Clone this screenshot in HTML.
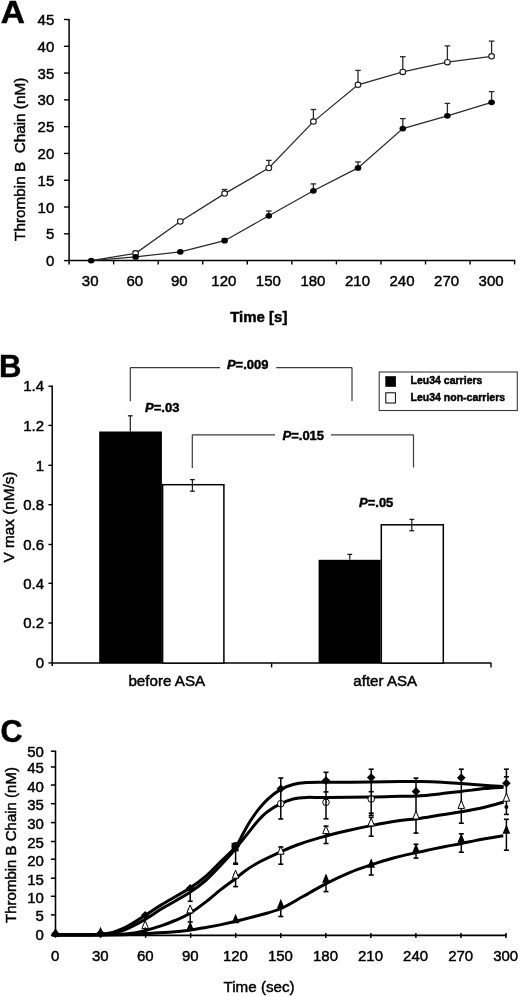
<!DOCTYPE html>
<html><head><meta charset="utf-8"><style>
html,body{margin:0;padding:0;background:#fff;}
svg{display:block;font-family:"Liberation Sans", sans-serif;will-change:transform;}
text{stroke:#000;stroke-width:0.45px;}
</style></head><body>
<svg width="520" height="996" viewBox="0 0 520 996" font-family='"Liberation Sans", sans-serif' fill="#000">
<rect x="0" y="0" width="520" height="996" fill="#fff"/>
<text transform="translate(0.8,23.4) scale(1.08,1)" font-size="31" font-weight="bold">A</text>
<line x1="69.10" y1="18.90" x2="69.10" y2="264.40" stroke="#000" stroke-width="1.5"/>
<line x1="68.40" y1="260.60" x2="515.30" y2="260.60" stroke="#000" stroke-width="1.5"/>
<line x1="63.90" y1="260.60" x2="69.10" y2="260.60" stroke="#000" stroke-width="1.4"/>
<text x="54.30" y="266.20" font-size="15" text-anchor="end" font-weight="normal" font-style="normal" >0</text>
<line x1="63.90" y1="233.81" x2="69.10" y2="233.81" stroke="#000" stroke-width="1.4"/>
<text x="54.30" y="239.41" font-size="15" text-anchor="end" font-weight="normal" font-style="normal" >5</text>
<line x1="63.90" y1="207.02" x2="69.10" y2="207.02" stroke="#000" stroke-width="1.4"/>
<text x="54.30" y="212.62" font-size="15" text-anchor="end" font-weight="normal" font-style="normal" >10</text>
<line x1="63.90" y1="180.23" x2="69.10" y2="180.23" stroke="#000" stroke-width="1.4"/>
<text x="54.30" y="185.83" font-size="15" text-anchor="end" font-weight="normal" font-style="normal" >15</text>
<line x1="63.90" y1="153.44" x2="69.10" y2="153.44" stroke="#000" stroke-width="1.4"/>
<text x="54.30" y="159.04" font-size="15" text-anchor="end" font-weight="normal" font-style="normal" >20</text>
<line x1="63.90" y1="126.66" x2="69.10" y2="126.66" stroke="#000" stroke-width="1.4"/>
<text x="54.30" y="132.26" font-size="15" text-anchor="end" font-weight="normal" font-style="normal" >25</text>
<line x1="63.90" y1="99.87" x2="69.10" y2="99.87" stroke="#000" stroke-width="1.4"/>
<text x="54.30" y="105.47" font-size="15" text-anchor="end" font-weight="normal" font-style="normal" >30</text>
<line x1="63.90" y1="73.08" x2="69.10" y2="73.08" stroke="#000" stroke-width="1.4"/>
<text x="54.30" y="78.68" font-size="15" text-anchor="end" font-weight="normal" font-style="normal" >35</text>
<line x1="63.90" y1="46.29" x2="69.10" y2="46.29" stroke="#000" stroke-width="1.4"/>
<text x="54.30" y="51.89" font-size="15" text-anchor="end" font-weight="normal" font-style="normal" >40</text>
<line x1="63.90" y1="19.50" x2="69.10" y2="19.50" stroke="#000" stroke-width="1.4"/>
<text x="54.30" y="25.10" font-size="15" text-anchor="end" font-weight="normal" font-style="normal" >45</text>
<line x1="113.65" y1="260.60" x2="113.65" y2="264.40" stroke="#000" stroke-width="1.4"/>
<line x1="158.20" y1="260.60" x2="158.20" y2="264.40" stroke="#000" stroke-width="1.4"/>
<line x1="202.75" y1="260.60" x2="202.75" y2="264.40" stroke="#000" stroke-width="1.4"/>
<line x1="247.30" y1="260.60" x2="247.30" y2="264.40" stroke="#000" stroke-width="1.4"/>
<line x1="291.85" y1="260.60" x2="291.85" y2="264.40" stroke="#000" stroke-width="1.4"/>
<line x1="336.40" y1="260.60" x2="336.40" y2="264.40" stroke="#000" stroke-width="1.4"/>
<line x1="380.95" y1="260.60" x2="380.95" y2="264.40" stroke="#000" stroke-width="1.4"/>
<line x1="425.50" y1="260.60" x2="425.50" y2="264.40" stroke="#000" stroke-width="1.4"/>
<line x1="470.05" y1="260.60" x2="470.05" y2="264.40" stroke="#000" stroke-width="1.4"/>
<line x1="514.60" y1="260.60" x2="514.60" y2="264.40" stroke="#000" stroke-width="1.4"/>
<text x="90.17" y="285.80" font-size="15" text-anchor="middle" font-weight="normal" font-style="normal" >30</text>
<text x="134.72" y="285.80" font-size="15" text-anchor="middle" font-weight="normal" font-style="normal" >60</text>
<text x="179.28" y="285.80" font-size="15" text-anchor="middle" font-weight="normal" font-style="normal" >90</text>
<text x="223.82" y="285.80" font-size="15" text-anchor="middle" font-weight="normal" font-style="normal" >120</text>
<text x="268.38" y="285.80" font-size="15" text-anchor="middle" font-weight="normal" font-style="normal" >150</text>
<text x="312.93" y="285.80" font-size="15" text-anchor="middle" font-weight="normal" font-style="normal" >180</text>
<text x="357.47" y="285.80" font-size="15" text-anchor="middle" font-weight="normal" font-style="normal" >210</text>
<text x="402.03" y="285.80" font-size="15" text-anchor="middle" font-weight="normal" font-style="normal" >240</text>
<text x="446.57" y="285.80" font-size="15" text-anchor="middle" font-weight="normal" font-style="normal" >270</text>
<text x="491.12" y="285.80" font-size="15" text-anchor="middle" font-weight="normal" font-style="normal" >300</text>
<text x="258.80" y="322.30" font-size="15" text-anchor="middle" font-weight="bold" font-style="normal" >Time [s]</text>
<text transform="translate(24.9,159.3) rotate(-90)" font-size="15.3" text-anchor="middle" xml:space="preserve">Thrombin B  Chain (nM)</text>
<polyline points="91.20,260.60 135.60,253.30 180.30,221.50 224.60,193.60 268.80,168.00 313.40,121.60 358.00,84.80 402.80,71.90 447.40,62.20 491.60,56.30" fill="none" stroke="#2a2a2a" stroke-width="1.25"/>
<line x1="135.60" y1="253.30" x2="135.60" y2="251.30" stroke="#2a2a2a" stroke-width="1.3"/>
<line x1="132.80" y1="251.30" x2="138.40" y2="251.30" stroke="#2a2a2a" stroke-width="1.3"/>
<line x1="180.30" y1="221.50" x2="180.30" y2="219.50" stroke="#2a2a2a" stroke-width="1.3"/>
<line x1="177.50" y1="219.50" x2="183.10" y2="219.50" stroke="#2a2a2a" stroke-width="1.3"/>
<line x1="224.60" y1="193.60" x2="224.60" y2="189.50" stroke="#2a2a2a" stroke-width="1.3"/>
<line x1="221.80" y1="189.50" x2="227.40" y2="189.50" stroke="#2a2a2a" stroke-width="1.3"/>
<line x1="268.80" y1="168.00" x2="268.80" y2="160.40" stroke="#2a2a2a" stroke-width="1.3"/>
<line x1="266.00" y1="160.40" x2="271.60" y2="160.40" stroke="#2a2a2a" stroke-width="1.3"/>
<line x1="313.40" y1="121.60" x2="313.40" y2="109.50" stroke="#2a2a2a" stroke-width="1.3"/>
<line x1="310.60" y1="109.50" x2="316.20" y2="109.50" stroke="#2a2a2a" stroke-width="1.3"/>
<line x1="358.00" y1="84.80" x2="358.00" y2="70.40" stroke="#2a2a2a" stroke-width="1.3"/>
<line x1="355.20" y1="70.40" x2="360.80" y2="70.40" stroke="#2a2a2a" stroke-width="1.3"/>
<line x1="402.80" y1="71.90" x2="402.80" y2="56.70" stroke="#2a2a2a" stroke-width="1.3"/>
<line x1="400.00" y1="56.70" x2="405.60" y2="56.70" stroke="#2a2a2a" stroke-width="1.3"/>
<line x1="447.40" y1="62.20" x2="447.40" y2="45.90" stroke="#2a2a2a" stroke-width="1.3"/>
<line x1="444.60" y1="45.90" x2="450.20" y2="45.90" stroke="#2a2a2a" stroke-width="1.3"/>
<line x1="491.60" y1="56.30" x2="491.60" y2="41.10" stroke="#2a2a2a" stroke-width="1.3"/>
<line x1="488.80" y1="41.10" x2="494.40" y2="41.10" stroke="#2a2a2a" stroke-width="1.3"/>
<polyline points="91.20,260.60 135.60,256.90 180.30,251.80 224.60,240.70 268.80,215.80 313.40,190.80 358.00,167.90 402.80,128.60 447.40,115.80 491.60,102.30" fill="none" stroke="#2a2a2a" stroke-width="1.25"/>
<line x1="224.60" y1="240.70" x2="224.60" y2="238.50" stroke="#2a2a2a" stroke-width="1.3"/>
<line x1="221.80" y1="238.50" x2="227.40" y2="238.50" stroke="#2a2a2a" stroke-width="1.3"/>
<line x1="268.80" y1="215.80" x2="268.80" y2="211.00" stroke="#2a2a2a" stroke-width="1.3"/>
<line x1="266.00" y1="211.00" x2="271.60" y2="211.00" stroke="#2a2a2a" stroke-width="1.3"/>
<line x1="313.40" y1="190.80" x2="313.40" y2="183.90" stroke="#2a2a2a" stroke-width="1.3"/>
<line x1="310.60" y1="183.90" x2="316.20" y2="183.90" stroke="#2a2a2a" stroke-width="1.3"/>
<line x1="358.00" y1="167.90" x2="358.00" y2="161.90" stroke="#2a2a2a" stroke-width="1.3"/>
<line x1="355.20" y1="161.90" x2="360.80" y2="161.90" stroke="#2a2a2a" stroke-width="1.3"/>
<line x1="402.80" y1="128.60" x2="402.80" y2="118.60" stroke="#2a2a2a" stroke-width="1.3"/>
<line x1="400.00" y1="118.60" x2="405.60" y2="118.60" stroke="#2a2a2a" stroke-width="1.3"/>
<line x1="447.40" y1="115.80" x2="447.40" y2="103.40" stroke="#2a2a2a" stroke-width="1.3"/>
<line x1="444.60" y1="103.40" x2="450.20" y2="103.40" stroke="#2a2a2a" stroke-width="1.3"/>
<line x1="491.60" y1="102.30" x2="491.60" y2="91.60" stroke="#2a2a2a" stroke-width="1.3"/>
<line x1="488.80" y1="91.60" x2="494.40" y2="91.60" stroke="#2a2a2a" stroke-width="1.3"/>
<ellipse cx="135.60" cy="253.30" rx="2.85" ry="2.7" fill="#fff" stroke="#1a1a1a" stroke-width="1.1"/>
<ellipse cx="180.30" cy="221.50" rx="2.85" ry="2.7" fill="#fff" stroke="#1a1a1a" stroke-width="1.1"/>
<ellipse cx="224.60" cy="193.60" rx="2.85" ry="2.7" fill="#fff" stroke="#1a1a1a" stroke-width="1.1"/>
<ellipse cx="268.80" cy="168.00" rx="2.85" ry="2.7" fill="#fff" stroke="#1a1a1a" stroke-width="1.1"/>
<ellipse cx="313.40" cy="121.60" rx="2.85" ry="2.7" fill="#fff" stroke="#1a1a1a" stroke-width="1.1"/>
<ellipse cx="358.00" cy="84.80" rx="2.85" ry="2.7" fill="#fff" stroke="#1a1a1a" stroke-width="1.1"/>
<ellipse cx="402.80" cy="71.90" rx="2.85" ry="2.7" fill="#fff" stroke="#1a1a1a" stroke-width="1.1"/>
<ellipse cx="447.40" cy="62.20" rx="2.85" ry="2.7" fill="#fff" stroke="#1a1a1a" stroke-width="1.1"/>
<ellipse cx="491.60" cy="56.30" rx="2.85" ry="2.7" fill="#fff" stroke="#1a1a1a" stroke-width="1.1"/>
<ellipse cx="91.20" cy="260.60" rx="3.3" ry="2.9" fill="#000"/>
<ellipse cx="135.60" cy="256.90" rx="3.3" ry="2.9" fill="#000"/>
<ellipse cx="180.30" cy="251.80" rx="3.3" ry="2.9" fill="#000"/>
<ellipse cx="224.60" cy="240.70" rx="3.3" ry="2.9" fill="#000"/>
<ellipse cx="268.80" cy="215.80" rx="3.3" ry="2.9" fill="#000"/>
<ellipse cx="313.40" cy="190.80" rx="3.3" ry="2.9" fill="#000"/>
<ellipse cx="358.00" cy="167.90" rx="3.3" ry="2.9" fill="#000"/>
<ellipse cx="402.80" cy="128.60" rx="3.3" ry="2.9" fill="#000"/>
<ellipse cx="447.40" cy="115.80" rx="3.3" ry="2.9" fill="#000"/>
<ellipse cx="491.60" cy="102.30" rx="3.3" ry="2.9" fill="#000"/>
<text x="-0.90" y="377.10" font-size="31" text-anchor="start" font-weight="bold" font-style="normal" >B</text>
<line x1="52.20" y1="385.60" x2="52.20" y2="666.10" stroke="#000" stroke-width="1.5"/>
<line x1="51.50" y1="663.10" x2="491.30" y2="663.10" stroke="#000" stroke-width="1.5"/>
<line x1="48.40" y1="662.90" x2="52.20" y2="662.90" stroke="#000" stroke-width="1.4"/>
<text x="44.00" y="668.10" font-size="15" text-anchor="end" font-weight="normal" font-style="normal" >0</text>
<line x1="48.40" y1="623.00" x2="52.20" y2="623.00" stroke="#000" stroke-width="1.4"/>
<text x="44.00" y="628.20" font-size="15" text-anchor="end" font-weight="normal" font-style="normal" >0.2</text>
<line x1="48.40" y1="583.30" x2="52.20" y2="583.30" stroke="#000" stroke-width="1.4"/>
<text x="44.00" y="588.50" font-size="15" text-anchor="end" font-weight="normal" font-style="normal" >0.4</text>
<line x1="48.40" y1="544.50" x2="52.20" y2="544.50" stroke="#000" stroke-width="1.4"/>
<text x="44.00" y="549.70" font-size="15" text-anchor="end" font-weight="normal" font-style="normal" >0.6</text>
<line x1="48.40" y1="504.70" x2="52.20" y2="504.70" stroke="#000" stroke-width="1.4"/>
<text x="44.00" y="509.90" font-size="15" text-anchor="end" font-weight="normal" font-style="normal" >0.8</text>
<line x1="48.40" y1="465.30" x2="52.20" y2="465.30" stroke="#000" stroke-width="1.4"/>
<text x="44.00" y="470.50" font-size="15" text-anchor="end" font-weight="normal" font-style="normal" >1</text>
<line x1="48.40" y1="425.40" x2="52.20" y2="425.40" stroke="#000" stroke-width="1.4"/>
<text x="44.00" y="430.60" font-size="15" text-anchor="end" font-weight="normal" font-style="normal" >1.2</text>
<line x1="48.40" y1="386.20" x2="52.20" y2="386.20" stroke="#000" stroke-width="1.4"/>
<text x="44.00" y="391.40" font-size="15" text-anchor="end" font-weight="normal" font-style="normal" >1.4</text>
<line x1="271.60" y1="663.10" x2="271.60" y2="667.40" stroke="#000" stroke-width="1.4"/>
<line x1="491.00" y1="663.10" x2="491.00" y2="667.40" stroke="#000" stroke-width="1.4"/>
<rect x="99.20" y="431.50" width="62.70" height="231.60" fill="#000" stroke="none" stroke-width="0"/>
<rect x="162.60" y="484.70" width="61.30" height="178.40" fill="#fff" stroke="#000" stroke-width="1.5"/>
<rect x="318.60" y="559.80" width="62.00" height="103.30" fill="#000" stroke="none" stroke-width="0"/>
<rect x="381.30" y="524.80" width="62.00" height="138.30" fill="#fff" stroke="#000" stroke-width="1.5"/>
<line x1="130.30" y1="415.80" x2="130.30" y2="431.50" stroke="#1a1a1a" stroke-width="1.2"/>
<line x1="127.90" y1="415.80" x2="132.70" y2="415.80" stroke="#1a1a1a" stroke-width="1.3"/>
<line x1="192.40" y1="479.60" x2="192.40" y2="491.20" stroke="#1a1a1a" stroke-width="1.2"/>
<line x1="190.00" y1="479.60" x2="194.80" y2="479.60" stroke="#1a1a1a" stroke-width="1.3"/>
<line x1="190.00" y1="491.20" x2="194.80" y2="491.20" stroke="#1a1a1a" stroke-width="1.3"/>
<line x1="349.80" y1="554.40" x2="349.80" y2="559.80" stroke="#1a1a1a" stroke-width="1.2"/>
<line x1="347.40" y1="554.40" x2="352.20" y2="554.40" stroke="#1a1a1a" stroke-width="1.3"/>
<line x1="411.80" y1="519.40" x2="411.80" y2="530.70" stroke="#1a1a1a" stroke-width="1.2"/>
<line x1="409.40" y1="519.40" x2="414.20" y2="519.40" stroke="#1a1a1a" stroke-width="1.3"/>
<line x1="409.40" y1="530.70" x2="414.20" y2="530.70" stroke="#1a1a1a" stroke-width="1.3"/>
<line x1="130.30" y1="401.20" x2="130.30" y2="367.60" stroke="#3a3a3a" stroke-width="1.2"/>
<line x1="130.30" y1="367.60" x2="220.00" y2="367.60" stroke="#3a3a3a" stroke-width="1.2"/>
<line x1="276.20" y1="367.60" x2="352.00" y2="367.60" stroke="#3a3a3a" stroke-width="1.2"/>
<line x1="352.00" y1="367.60" x2="352.00" y2="401.00" stroke="#3a3a3a" stroke-width="1.2"/>
<text x="226.90" y="369.20" font-size="13" text-anchor="start" font-weight="bold" font-style="normal" ><tspan font-style="italic">P</tspan>=.009</text>
<line x1="192.30" y1="468.00" x2="192.30" y2="434.80" stroke="#3a3a3a" stroke-width="1.2"/>
<line x1="192.30" y1="434.80" x2="275.00" y2="434.80" stroke="#3a3a3a" stroke-width="1.2"/>
<line x1="331.00" y1="434.80" x2="413.50" y2="434.80" stroke="#3a3a3a" stroke-width="1.2"/>
<line x1="413.50" y1="434.80" x2="413.50" y2="467.50" stroke="#3a3a3a" stroke-width="1.2"/>
<text x="282.50" y="439.60" font-size="13" text-anchor="start" font-weight="bold" font-style="normal" ><tspan font-style="italic">P</tspan>=.015</text>
<text x="145.10" y="411.90" font-size="13" text-anchor="start" font-weight="bold" font-style="normal" ><tspan font-style="italic">P</tspan>=.03</text>
<text x="359.00" y="506.50" font-size="13" text-anchor="start" font-weight="bold" font-style="normal" ><tspan font-style="italic">P</tspan>=.05</text>
<rect x="379.20" y="372.00" width="138.10" height="38.50" fill="#fff" stroke="#3a3a3a" stroke-width="1.1"/>
<rect x="385.30" y="376.20" width="10.60" height="10.60" fill="#000" stroke="none" stroke-width="0"/>
<rect x="385.80" y="392.80" width="9.60" height="10.20" fill="#fff" stroke="#000" stroke-width="1"/>
<text x="410.60" y="384.20" font-size="10.5" text-anchor="start" font-weight="bold" font-style="normal" >Leu34 carriers</text>
<text x="410.60" y="401.30" font-size="10.5" text-anchor="start" font-weight="bold" font-style="normal" >Leu34 non-carriers</text>
<text x="166.80" y="686.00" font-size="15.2" text-anchor="middle" font-weight="normal" font-style="normal" >before ASA</text>
<text x="385.20" y="686.00" font-size="15.1" text-anchor="middle" font-weight="normal" font-style="normal" >after ASA</text>
<text transform="translate(14.4,517) rotate(-90)" font-size="15.3" text-anchor="middle">V max (nM/s)</text>
<text x="0.60" y="741.50" font-size="30.5" text-anchor="start" font-weight="bold" font-style="normal" >C</text>
<line x1="55.50" y1="750.60" x2="55.50" y2="935.80" stroke="#000" stroke-width="1.6"/>
<line x1="54.70" y1="935.30" x2="506.80" y2="935.30" stroke="#000" stroke-width="1.8"/>
<line x1="50.90" y1="935.30" x2="55.50" y2="935.30" stroke="#000" stroke-width="1.5"/>
<text x="43.90" y="939.50" font-size="15" text-anchor="end" font-weight="normal" font-style="normal" >0</text>
<line x1="50.90" y1="914.90" x2="55.50" y2="914.90" stroke="#000" stroke-width="1.5"/>
<text x="43.90" y="921.10" font-size="15" text-anchor="end" font-weight="normal" font-style="normal" >5</text>
<line x1="50.90" y1="896.30" x2="55.50" y2="896.30" stroke="#000" stroke-width="1.5"/>
<text x="43.90" y="903.00" font-size="15" text-anchor="end" font-weight="normal" font-style="normal" >10</text>
<line x1="50.90" y1="878.20" x2="55.50" y2="878.20" stroke="#000" stroke-width="1.5"/>
<text x="43.90" y="884.50" font-size="15" text-anchor="end" font-weight="normal" font-style="normal" >15</text>
<line x1="50.90" y1="859.20" x2="55.50" y2="859.20" stroke="#000" stroke-width="1.5"/>
<text x="43.90" y="865.80" font-size="15" text-anchor="end" font-weight="normal" font-style="normal" >20</text>
<line x1="50.90" y1="841.50" x2="55.50" y2="841.50" stroke="#000" stroke-width="1.5"/>
<text x="43.90" y="847.90" font-size="15" text-anchor="end" font-weight="normal" font-style="normal" >25</text>
<line x1="50.90" y1="822.60" x2="55.50" y2="822.60" stroke="#000" stroke-width="1.5"/>
<text x="43.90" y="829.10" font-size="15" text-anchor="end" font-weight="normal" font-style="normal" >30</text>
<line x1="50.90" y1="803.70" x2="55.50" y2="803.70" stroke="#000" stroke-width="1.5"/>
<text x="43.90" y="810.10" font-size="15" text-anchor="end" font-weight="normal" font-style="normal" >35</text>
<line x1="50.90" y1="785.00" x2="55.50" y2="785.00" stroke="#000" stroke-width="1.5"/>
<text x="43.90" y="791.50" font-size="15" text-anchor="end" font-weight="normal" font-style="normal" >40</text>
<line x1="50.90" y1="767.00" x2="55.50" y2="767.00" stroke="#000" stroke-width="1.5"/>
<text x="43.90" y="773.30" font-size="15" text-anchor="end" font-weight="normal" font-style="normal" >45</text>
<line x1="50.90" y1="751.20" x2="55.50" y2="751.20" stroke="#000" stroke-width="1.5"/>
<text x="43.90" y="756.60" font-size="15" text-anchor="end" font-weight="normal" font-style="normal" >50</text>
<text x="55.20" y="961.30" font-size="15" text-anchor="middle" font-weight="normal" font-style="normal" >0</text>
<line x1="100.55" y1="932.90" x2="100.55" y2="937.90" stroke="#000" stroke-width="1.5"/>
<text x="100.25" y="961.30" font-size="15" text-anchor="middle" font-weight="normal" font-style="normal" >30</text>
<line x1="145.60" y1="932.90" x2="145.60" y2="937.90" stroke="#000" stroke-width="1.5"/>
<text x="145.30" y="961.30" font-size="15" text-anchor="middle" font-weight="normal" font-style="normal" >60</text>
<line x1="190.65" y1="932.90" x2="190.65" y2="937.90" stroke="#000" stroke-width="1.5"/>
<text x="190.35" y="961.30" font-size="15" text-anchor="middle" font-weight="normal" font-style="normal" >90</text>
<line x1="235.70" y1="932.90" x2="235.70" y2="937.90" stroke="#000" stroke-width="1.5"/>
<text x="235.40" y="961.30" font-size="15" text-anchor="middle" font-weight="normal" font-style="normal" >120</text>
<line x1="280.75" y1="932.90" x2="280.75" y2="937.90" stroke="#000" stroke-width="1.5"/>
<text x="280.45" y="961.30" font-size="15" text-anchor="middle" font-weight="normal" font-style="normal" >150</text>
<line x1="325.80" y1="932.90" x2="325.80" y2="937.90" stroke="#000" stroke-width="1.5"/>
<text x="325.50" y="961.30" font-size="15" text-anchor="middle" font-weight="normal" font-style="normal" >180</text>
<line x1="370.85" y1="932.90" x2="370.85" y2="937.90" stroke="#000" stroke-width="1.5"/>
<text x="370.55" y="961.30" font-size="15" text-anchor="middle" font-weight="normal" font-style="normal" >210</text>
<line x1="415.90" y1="932.90" x2="415.90" y2="937.90" stroke="#000" stroke-width="1.5"/>
<text x="415.60" y="961.30" font-size="15" text-anchor="middle" font-weight="normal" font-style="normal" >240</text>
<line x1="460.95" y1="932.90" x2="460.95" y2="937.90" stroke="#000" stroke-width="1.5"/>
<text x="460.65" y="961.30" font-size="15" text-anchor="middle" font-weight="normal" font-style="normal" >270</text>
<line x1="506.00" y1="932.90" x2="506.00" y2="937.90" stroke="#000" stroke-width="1.5"/>
<text x="505.70" y="961.30" font-size="15" text-anchor="middle" font-weight="normal" font-style="normal" >300</text>
<text x="259.10" y="991.70" font-size="15.2" text-anchor="middle" font-weight="normal" font-style="normal" >Time (sec)</text>
<text transform="translate(16,845) rotate(-90)" font-size="15" text-anchor="middle">Thrombin B Chain (nM)</text>
<path d="M55.50,934.80 C63.00,934.70 89.42,935.17 100.50,934.20 C111.58,933.23 114.62,932.10 122.00,929.00 C129.38,925.90 138.18,919.67 144.80,915.60 C151.42,911.53 154.30,909.10 161.70,904.60 C169.10,900.10 181.78,893.40 189.20,888.60 C196.62,883.80 200.90,880.37 206.20,875.80 C211.50,871.23 216.10,866.02 221.00,861.20 C225.90,856.38 231.92,851.52 235.60,846.90 C239.28,842.28 240.57,837.93 243.10,833.50 C245.63,829.07 248.23,824.32 250.80,820.30 C253.37,816.28 255.62,812.98 258.50,809.40 C261.38,805.82 264.38,802.13 268.10,798.80 C271.82,795.47 276.63,791.78 280.80,789.40 C284.97,787.02 288.82,785.63 293.10,784.50 C297.38,783.37 301.02,782.97 306.50,782.60 C311.98,782.23 315.25,782.40 326.00,782.30 C336.75,782.20 358.67,782.12 371.00,782.00 C383.33,781.88 391.67,781.67 400.00,781.60 C408.33,781.53 413.95,781.48 421.00,781.60 C428.05,781.72 435.58,781.97 442.30,782.30 C449.02,782.63 454.95,783.13 461.30,783.60 C467.65,784.07 473.37,784.60 480.40,785.10 C487.43,785.60 499.65,786.35 503.50,786.60" fill="none" stroke="#000" stroke-width="3.0" stroke-linejoin="round" stroke-linecap="butt"/>
<path d="M55.50,934.80 C63.00,934.73 89.42,935.07 100.50,934.40 C111.58,933.73 114.62,933.27 122.00,930.80 C129.38,928.33 138.18,923.27 144.80,919.60 C151.42,915.93 154.30,913.27 161.70,908.80 C169.10,904.33 181.78,897.60 189.20,892.80 C196.62,888.00 200.90,884.63 206.20,880.00 C211.50,875.37 216.13,870.17 221.00,865.00 C225.87,859.83 231.72,853.30 235.40,849.00 C239.08,844.70 240.53,842.43 243.10,839.20 C245.67,835.97 248.23,832.77 250.80,829.60 C253.37,826.43 255.62,823.25 258.50,820.20 C261.38,817.15 264.38,814.05 268.10,811.30 C271.82,808.55 276.63,805.75 280.80,803.70 C284.97,801.65 288.82,800.05 293.10,799.00 C297.38,797.95 301.02,797.65 306.50,797.40 C311.98,797.15 315.25,797.57 326.00,797.50 C336.75,797.43 358.67,797.20 371.00,797.00 C383.33,796.80 392.33,796.47 400.00,796.30 C407.67,796.13 409.95,796.45 417.00,796.00 C424.05,795.55 434.92,794.37 442.30,793.60 C449.68,792.83 454.25,792.23 461.30,791.40 C468.35,790.57 477.57,789.30 484.60,788.60 C491.63,787.90 500.35,787.43 503.50,787.20" fill="none" stroke="#000" stroke-width="3.0" stroke-linejoin="round" stroke-linecap="butt"/>
<path d="M55.50,935.00 C63.00,934.97 88.08,935.03 100.50,934.80 C112.92,934.57 122.62,934.30 130.00,933.60 C137.38,932.90 139.52,931.93 144.80,930.60 C150.08,929.27 156.67,927.28 161.70,925.60 C166.73,923.92 170.42,922.47 175.00,920.50 C179.58,918.53 184.00,916.95 189.20,913.80 C194.40,910.65 200.90,905.67 206.20,901.60 C211.50,897.53 216.07,893.25 221.00,889.40 C225.93,885.55 231.80,881.57 235.80,878.50 C239.80,875.43 241.22,873.67 245.00,871.00 C248.78,868.33 252.53,865.68 258.50,862.50 C264.47,859.32 274.40,854.82 280.80,851.90 C287.20,848.98 290.37,847.38 296.90,845.00 C303.43,842.62 311.82,839.93 320.00,837.60 C328.18,835.27 337.50,833.00 346.00,831.00 C354.50,829.00 362.00,827.33 371.00,825.60 C380.00,823.87 392.33,821.73 400.00,820.60 C407.67,819.47 409.95,819.78 417.00,818.80 C424.05,817.82 434.92,815.87 442.30,814.70 C449.68,813.53 454.25,813.03 461.30,811.80 C468.35,810.57 477.53,808.93 484.60,807.30 C491.67,805.67 500.52,802.88 503.70,802.00" fill="none" stroke="#000" stroke-width="3.0" stroke-linejoin="round" stroke-linecap="butt"/>
<path d="M55.50,935.00 C63.00,934.98 88.08,935.00 100.50,934.90 C112.92,934.80 122.62,934.62 130.00,934.40 C137.38,934.18 137.75,934.00 144.80,933.60 C151.85,933.20 164.90,932.57 172.30,932.00 C179.70,931.43 183.55,930.97 189.20,930.20 C194.85,929.43 200.90,928.33 206.20,927.40 C211.50,926.47 215.37,925.80 221.00,924.60 C226.63,923.40 233.17,921.88 240.00,920.20 C246.83,918.52 255.17,916.45 262.00,914.50 C268.83,912.55 274.17,911.50 281.00,908.50 C287.83,905.50 295.50,900.65 303.00,896.50 C310.50,892.35 318.33,887.55 326.00,883.60 C333.67,879.65 341.50,875.92 349.00,872.80 C356.50,869.68 363.58,867.37 371.00,864.90 C378.42,862.43 385.97,860.05 393.50,858.00 C401.03,855.95 410.12,854.00 416.20,852.60 C422.28,851.20 425.13,850.62 430.00,849.60 C434.87,848.58 440.15,847.52 445.40,846.50 C450.65,845.48 456.37,844.52 461.50,843.50 C466.63,842.48 471.20,841.35 476.20,840.40 C481.20,839.45 486.98,838.57 491.50,837.80 C496.02,837.03 501.33,836.13 503.30,835.80" fill="none" stroke="#000" stroke-width="3.0" stroke-linejoin="round" stroke-linecap="butt"/>
<line x1="190.20" y1="888.00" x2="190.20" y2="901.30" stroke="#000" stroke-width="1.5"/>
<line x1="187.70" y1="888.00" x2="192.70" y2="888.00" stroke="#000" stroke-width="1.6"/>
<line x1="187.70" y1="901.30" x2="192.70" y2="901.30" stroke="#000" stroke-width="1.6"/>
<line x1="235.60" y1="843.00" x2="235.60" y2="864.20" stroke="#000" stroke-width="1.5"/>
<line x1="233.10" y1="843.00" x2="238.10" y2="843.00" stroke="#000" stroke-width="1.6"/>
<line x1="233.10" y1="864.20" x2="238.10" y2="864.20" stroke="#000" stroke-width="1.6"/>
<line x1="280.80" y1="778.00" x2="280.80" y2="819.00" stroke="#000" stroke-width="1.5"/>
<line x1="278.30" y1="778.00" x2="283.30" y2="778.00" stroke="#000" stroke-width="1.6"/>
<line x1="278.30" y1="819.00" x2="283.30" y2="819.00" stroke="#000" stroke-width="1.6"/>
<line x1="326.00" y1="772.30" x2="326.00" y2="818.80" stroke="#000" stroke-width="1.5"/>
<line x1="323.50" y1="772.30" x2="328.50" y2="772.30" stroke="#000" stroke-width="1.6"/>
<line x1="323.50" y1="818.80" x2="328.50" y2="818.80" stroke="#000" stroke-width="1.6"/>
<line x1="371.20" y1="769.20" x2="371.20" y2="815.40" stroke="#000" stroke-width="1.5"/>
<line x1="368.70" y1="769.20" x2="373.70" y2="769.20" stroke="#000" stroke-width="1.6"/>
<line x1="368.70" y1="815.40" x2="373.70" y2="815.40" stroke="#000" stroke-width="1.6"/>
<line x1="416.00" y1="778.10" x2="416.00" y2="833.10" stroke="#000" stroke-width="1.5"/>
<line x1="413.50" y1="778.10" x2="418.50" y2="778.10" stroke="#000" stroke-width="1.6"/>
<line x1="413.50" y1="833.10" x2="418.50" y2="833.10" stroke="#000" stroke-width="1.6"/>
<line x1="461.30" y1="769.20" x2="461.30" y2="823.20" stroke="#000" stroke-width="1.5"/>
<line x1="458.80" y1="769.20" x2="463.80" y2="769.20" stroke="#000" stroke-width="1.6"/>
<line x1="458.80" y1="823.20" x2="463.80" y2="823.20" stroke="#000" stroke-width="1.6"/>
<line x1="506.40" y1="769.20" x2="506.40" y2="814.40" stroke="#000" stroke-width="1.5"/>
<line x1="503.90" y1="769.20" x2="508.90" y2="769.20" stroke="#000" stroke-width="1.6"/>
<line x1="503.90" y1="814.40" x2="508.90" y2="814.40" stroke="#000" stroke-width="1.6"/>
<line x1="190.20" y1="909.50" x2="190.20" y2="922.00" stroke="#000" stroke-width="1.5"/>
<line x1="187.70" y1="909.50" x2="192.70" y2="909.50" stroke="#000" stroke-width="1.6"/>
<line x1="187.70" y1="922.00" x2="192.70" y2="922.00" stroke="#000" stroke-width="1.6"/>
<line x1="235.60" y1="874.60" x2="235.60" y2="886.60" stroke="#000" stroke-width="1.5"/>
<line x1="233.10" y1="874.60" x2="238.10" y2="874.60" stroke="#000" stroke-width="1.6"/>
<line x1="233.10" y1="886.60" x2="238.10" y2="886.60" stroke="#000" stroke-width="1.6"/>
<line x1="280.80" y1="847.00" x2="280.80" y2="864.20" stroke="#000" stroke-width="1.5"/>
<line x1="278.30" y1="847.00" x2="283.30" y2="847.00" stroke="#000" stroke-width="1.6"/>
<line x1="278.30" y1="864.20" x2="283.30" y2="864.20" stroke="#000" stroke-width="1.6"/>
<line x1="326.00" y1="826.20" x2="326.00" y2="843.50" stroke="#000" stroke-width="1.5"/>
<line x1="323.50" y1="826.20" x2="328.50" y2="826.20" stroke="#000" stroke-width="1.6"/>
<line x1="323.50" y1="843.50" x2="328.50" y2="843.50" stroke="#000" stroke-width="1.6"/>
<line x1="371.20" y1="817.30" x2="371.20" y2="836.20" stroke="#000" stroke-width="1.5"/>
<line x1="368.70" y1="817.30" x2="373.70" y2="817.30" stroke="#000" stroke-width="1.6"/>
<line x1="368.70" y1="836.20" x2="373.70" y2="836.20" stroke="#000" stroke-width="1.6"/>
<line x1="280.80" y1="901.60" x2="280.80" y2="916.50" stroke="#000" stroke-width="1.5"/>
<line x1="278.30" y1="916.50" x2="283.30" y2="916.50" stroke="#000" stroke-width="1.6"/>
<line x1="326.00" y1="875.00" x2="326.00" y2="891.60" stroke="#000" stroke-width="1.5"/>
<line x1="323.50" y1="891.60" x2="328.50" y2="891.60" stroke="#000" stroke-width="1.6"/>
<line x1="371.20" y1="860.50" x2="371.20" y2="875.00" stroke="#000" stroke-width="1.5"/>
<line x1="368.70" y1="875.00" x2="373.70" y2="875.00" stroke="#000" stroke-width="1.6"/>
<line x1="416.00" y1="844.30" x2="416.00" y2="858.10" stroke="#000" stroke-width="1.5"/>
<line x1="413.50" y1="844.30" x2="418.50" y2="844.30" stroke="#000" stroke-width="1.6"/>
<line x1="413.50" y1="858.10" x2="418.50" y2="858.10" stroke="#000" stroke-width="1.6"/>
<line x1="461.30" y1="833.80" x2="461.30" y2="852.20" stroke="#000" stroke-width="1.5"/>
<line x1="458.80" y1="833.80" x2="463.80" y2="833.80" stroke="#000" stroke-width="1.6"/>
<line x1="458.80" y1="852.20" x2="463.80" y2="852.20" stroke="#000" stroke-width="1.6"/>
<line x1="506.40" y1="819.30" x2="506.40" y2="850.20" stroke="#000" stroke-width="1.5"/>
<line x1="503.90" y1="819.30" x2="508.90" y2="819.30" stroke="#000" stroke-width="1.6"/>
<line x1="503.90" y1="850.20" x2="508.90" y2="850.20" stroke="#000" stroke-width="1.6"/>
<line x1="323.50" y1="791.90" x2="328.50" y2="791.90" stroke="#000" stroke-width="1.6"/>
<line x1="503.90" y1="776.80" x2="508.90" y2="776.80" stroke="#000" stroke-width="1.6"/>
<line x1="368.70" y1="791.70" x2="373.70" y2="791.70" stroke="#000" stroke-width="1.6"/>
<line x1="368.70" y1="813.20" x2="373.70" y2="813.20" stroke="#000" stroke-width="1.6"/>
<line x1="233.10" y1="863.20" x2="238.10" y2="863.20" stroke="#000" stroke-width="1.6"/>
<circle cx="280.80" cy="803.70" r="3.3" fill="#fff" stroke="#000" stroke-width="1"/>
<line x1="280.80" y1="800.20" x2="280.80" y2="807.20" stroke="#000" stroke-width="1.5"/>
<circle cx="326.00" cy="802.30" r="3.3" fill="#fff" stroke="#000" stroke-width="1"/>
<line x1="326.00" y1="798.80" x2="326.00" y2="805.80" stroke="#000" stroke-width="1.5"/>
<circle cx="371.20" cy="799.00" r="3.3" fill="#fff" stroke="#000" stroke-width="1"/>
<line x1="371.20" y1="795.50" x2="371.20" y2="802.50" stroke="#000" stroke-width="1.5"/>
<path d="M145.20,920.60 L148.48,928.60 L141.92,928.60 Z" fill="#fff" stroke="#000" stroke-width="1"/>
<path d="M190.20,904.90 L193.48,912.90 L186.92,912.90 Z" fill="#fff" stroke="#000" stroke-width="1"/>
<path d="M235.60,870.20 L238.88,878.20 L232.32,878.20 Z" fill="#fff" stroke="#000" stroke-width="1"/>
<path d="M280.80,846.20 L284.08,854.20 L277.52,854.20 Z" fill="#fff" stroke="#000" stroke-width="1"/>
<path d="M326.00,825.60 L329.28,833.60 L322.72,833.60 Z" fill="#fff" stroke="#000" stroke-width="1"/>
<path d="M371.20,817.90 L374.48,825.90 L367.92,825.90 Z" fill="#fff" stroke="#000" stroke-width="1"/>
<path d="M416.00,811.00 L419.28,819.00 L412.72,819.00 Z" fill="#fff" stroke="#000" stroke-width="1"/>
<path d="M461.30,800.40 L464.58,808.40 L458.02,808.40 Z" fill="#fff" stroke="#000" stroke-width="1"/>
<path d="M506.40,793.20 L509.68,801.20 L503.12,801.20 Z" fill="#fff" stroke="#000" stroke-width="1"/>
<path d="M55.50,927.43 L59.35,936.83 L51.65,936.83 Z" fill="#000" stroke="#000" stroke-width="0"/>
<path d="M100.50,926.83 L104.35,936.23 L96.65,936.23 Z" fill="#000" stroke="#000" stroke-width="0"/>
<path d="M145.20,926.43 L149.05,935.83 L141.35,935.83 Z" fill="#000" stroke="#000" stroke-width="0"/>
<path d="M190.20,921.13 L194.05,930.53 L186.35,930.53 Z" fill="#000" stroke="#000" stroke-width="0"/>
<path d="M235.60,913.83 L239.45,923.23 L231.75,923.23 Z" fill="#000" stroke="#000" stroke-width="0"/>
<path d="M280.80,898.83 L284.65,908.23 L276.95,908.23 Z" fill="#000" stroke="#000" stroke-width="0"/>
<path d="M326.00,873.43 L329.85,882.83 L322.15,882.83 Z" fill="#000" stroke="#000" stroke-width="0"/>
<path d="M371.20,858.33 L375.05,867.73 L367.35,867.73 Z" fill="#000" stroke="#000" stroke-width="0"/>
<path d="M416.00,843.33 L419.85,852.73 L412.15,852.73 Z" fill="#000" stroke="#000" stroke-width="0"/>
<path d="M461.30,833.33 L465.15,842.73 L457.45,842.73 Z" fill="#000" stroke="#000" stroke-width="0"/>
<path d="M506.40,824.43 L510.25,833.83 L502.55,833.83 Z" fill="#000" stroke="#000" stroke-width="0"/>
<rect x="231.60" y="843.00" width="7.00" height="8.40" fill="#000" stroke="none" stroke-width="0"/>
<path d="M55.50,929.50 L59.80,933.80 L55.50,938.10 L51.20,933.80 Z" fill="#000" stroke="#000" stroke-width="0"/>
<path d="M100.50,928.90 L104.80,933.20 L100.50,937.50 L96.20,933.20 Z" fill="#000" stroke="#000" stroke-width="0"/>
<path d="M145.20,911.00 L149.50,915.30 L145.20,919.60 L140.90,915.30 Z" fill="#000" stroke="#000" stroke-width="0"/>
<path d="M190.20,884.00 L194.50,888.30 L190.20,892.60 L185.90,888.30 Z" fill="#000" stroke="#000" stroke-width="0"/>
<path d="M235.60,842.20 L239.90,846.50 L235.60,850.80 L231.30,846.50 Z" fill="#000" stroke="#000" stroke-width="0"/>
<path d="M280.80,784.50 L285.10,788.80 L280.80,793.10 L276.50,788.80 Z" fill="#000" stroke="#000" stroke-width="0"/>
<path d="M326.00,776.30 L330.30,780.60 L326.00,784.90 L321.70,780.60 Z" fill="#000" stroke="#000" stroke-width="0"/>
<path d="M371.20,773.20 L375.50,777.50 L371.20,781.80 L366.90,777.50 Z" fill="#000" stroke="#000" stroke-width="0"/>
<path d="M416.00,787.10 L420.30,791.40 L416.00,795.70 L411.70,791.40 Z" fill="#000" stroke="#000" stroke-width="0"/>
<path d="M461.30,773.40 L465.60,777.70 L461.30,782.00 L457.00,777.70 Z" fill="#000" stroke="#000" stroke-width="0"/>
<path d="M506.40,778.90 L510.70,783.20 L506.40,787.50 L502.10,783.20 Z" fill="#000" stroke="#000" stroke-width="0"/>
<circle cx="506.4" cy="807.1" r="2" fill="#000"/>
</svg>
</body></html>
